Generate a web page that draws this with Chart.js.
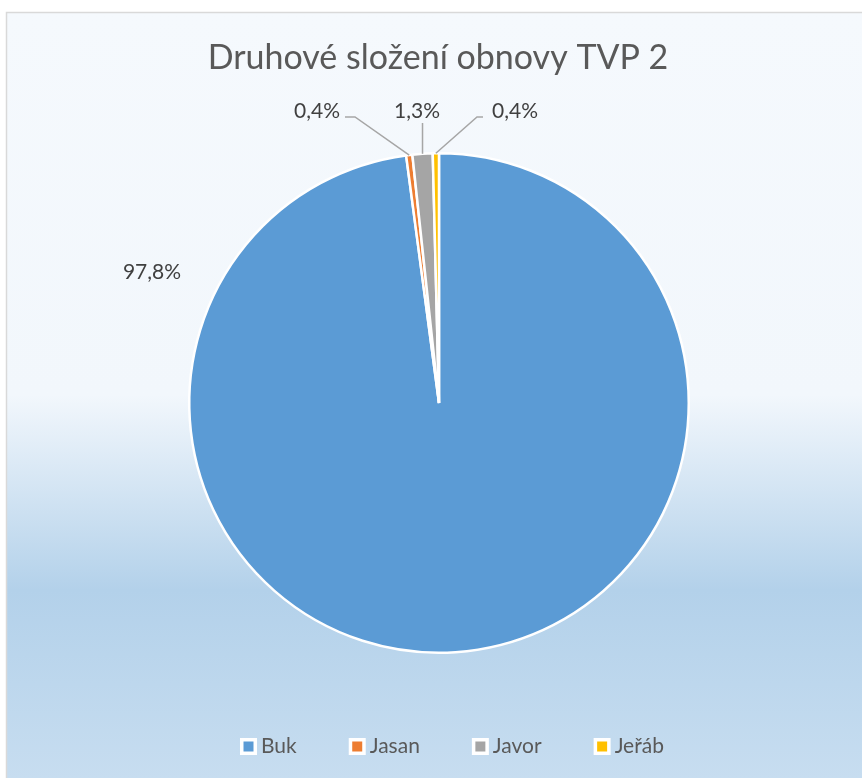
<!DOCTYPE html>
<html>
<head>
<meta charset="utf-8">
<script src="https://cdn.jsdelivr.net/npm/chart.js@4.4.1/dist/chart.umd.min.js"></script>
<style>
  html, body { margin: 0; padding: 0; background: #fff; }
</style>
</head>
<body>
<canvas id="pie" width="862" height="778"></canvas>
<script>
// Data
const chartTitle = 'Druhové složení obnovy TVP 2';
const species = ['Buk', 'Jasan', 'Javor', 'Jeřáb'];
const shares = [97.8, 0.4, 1.3, 0.4];
const shareLabels = ['97,8%', '0,4%', '1,3%', '0,4%'];
const colors = ['#5b9bd5', '#ed7d31', '#a5a5a5', '#ffc000'];

const FONT = 'Lato, "Open Sans", sans-serif';

// where each percentage label sits, relative to the pie centre
// (text centre, leader elbow, leader end)
const labelSpots = [
    { tx: -287, ty: -131 },
    { tx: -122, ty: -292, ex: -84, ey: -286, lx: -94 },
    { tx: -22, ty: -292, vertical: -280 },
    { tx: 76, ty: -292, ex: 38, ey: -286, lx: 44 }
];

const backdrop = {
    id: 'backdrop',
    beforeDraw(chart) {
        const ctx = chart.ctx;
        const W = chart.width, H = chart.height;
        ctx.save();
        ctx.fillStyle = '#fff';
        ctx.fillRect(0, 0, W, H);
        const g = ctx.createLinearGradient(0, 12, 0, H);
        g.addColorStop(0, '#f5f9fd');
        g.addColorStop(0.5, '#f2f7fc');
        g.addColorStop(0.755, '#b3d1ea');
        g.addColorStop(1, '#c7ddf0');
        ctx.fillStyle = g;
        ctx.fillRect(6, 12, W - 6, H - 12);
        ctx.strokeStyle = '#d9d9d9';
        ctx.lineWidth = 1.5;
        ctx.beginPath();
        ctx.moveTo(6.5, H);
        ctx.lineTo(6.5, 12.5);
        ctx.lineTo(W, 12.5);
        ctx.stroke();
        ctx.restore();
    }
};

const decorations = {
    id: 'decorations',
    afterDatasetsDraw(chart) {
        const ctx = chart.ctx;
        const arcs = chart.getDatasetMeta(0).data;
        ctx.save();

        // title
        ctx.fillStyle = '#595959';
        ctx.font = '34px ' + FONT;
        ctx.textAlign = 'center';
        ctx.textBaseline = 'middle';
        ctx.fillText(chartTitle, 438, 58);

        // percentage labels + leader lines
        arcs.forEach((arc, i) => {
            const cx = arc.x, cy = arc.y;
            const spot = labelSpots[i];
            const mid = (arc.startAngle + arc.endAngle) / 2;
            const px = cx + Math.cos(mid) * arc.outerRadius;
            const py = cy + Math.sin(mid) * arc.outerRadius;
            ctx.strokeStyle = '#a6a6a6';
            ctx.lineWidth = 1.5;
            if (spot.vertical !== undefined) {
                ctx.beginPath();
                ctx.moveTo(px, py);
                ctx.lineTo(px, cy + spot.vertical);
                ctx.stroke();
            } else if (spot.ex !== undefined) {
                ctx.beginPath();
                ctx.moveTo(px, py);
                ctx.lineTo(cx + spot.ex, cy + spot.ey);
                ctx.lineTo(cx + spot.lx, cy + spot.ey);
                ctx.stroke();
            }
            ctx.fillStyle = '#404040';
            ctx.font = '21px ' + FONT;
            ctx.textAlign = 'center';
            ctx.textBaseline = 'middle';
            ctx.fillText(shareLabels[i], cx + spot.tx, cy + spot.ty);
        });

        // legend
        ctx.font = '21px ' + FONT;
        ctx.textAlign = 'left';
        ctx.textBaseline = 'middle';
        let x = 240;
        const y = 746;
        species.forEach((name, i) => {
            ctx.fillStyle = '#fff';
            ctx.fillRect(x, y - 8, 17, 17);
            ctx.fillStyle = colors[i];
            ctx.fillRect(x + 3.5, y - 4.5, 10, 10);
            ctx.fillStyle = '#595959';
            ctx.fillText(name, x + 21, y);
            x += 21 + ctx.measureText(name).width + 52;
        });
        ctx.restore();
    }
};

new Chart(document.getElementById('pie'), {
    type: 'pie',
    data: {
        labels: species,
        datasets: [{
            data: shares,
            backgroundColor: colors,
            borderColor: '#ffffff',
            borderWidth: 2.5
        }]
    },
    options: {
        responsive: false,
        animation: false,
        devicePixelRatio: 1,
        layout: { padding: { left: 188, right: 172, top: 152, bottom: 124 } },
        plugins: {
            legend: { display: false },
            title: { display: false },
            tooltip: { enabled: false }
        }
    },
    plugins: [backdrop, decorations]
});
</script>
</body>
</html>
